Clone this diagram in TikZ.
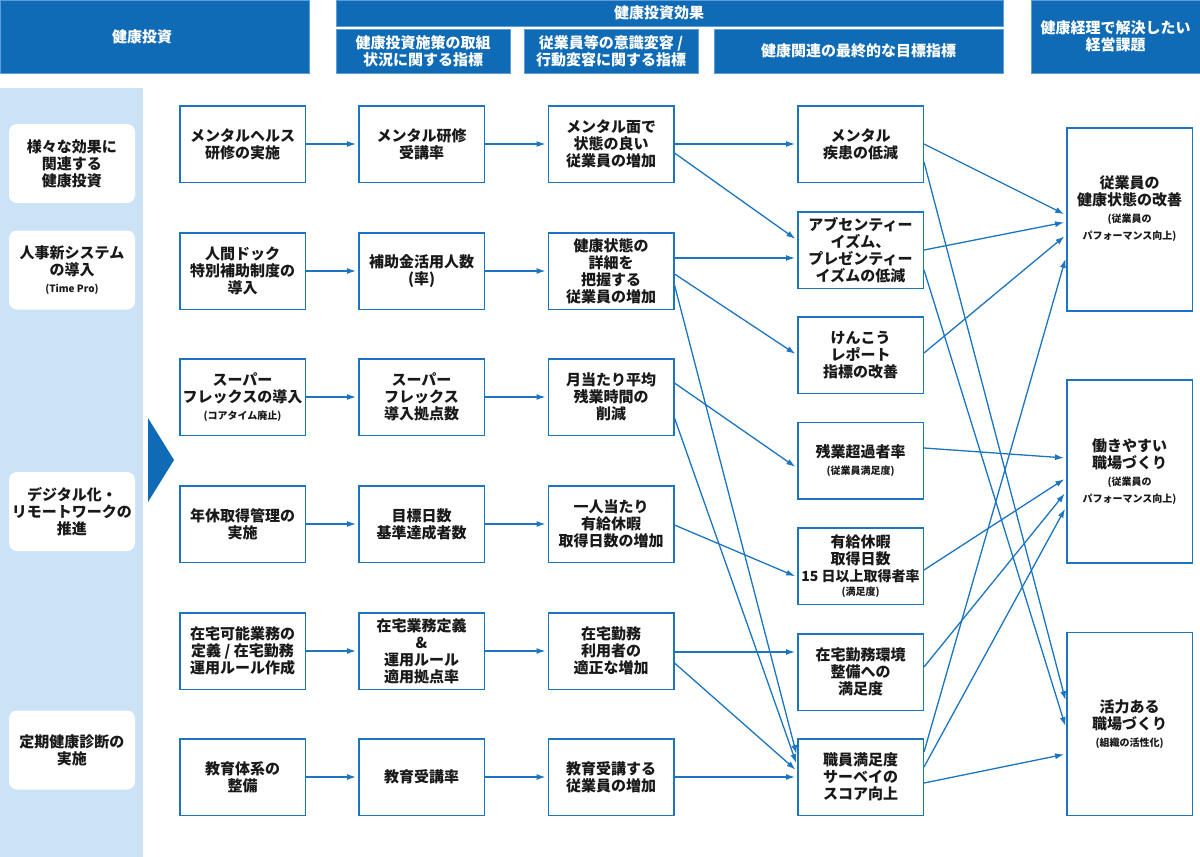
\documentclass[tikz,border=0pt]{standalone}
\usepackage{fontspec}
\setmainfont{Noto Sans CJK JP}
\usetikzlibrary{arrows.meta}
\definecolor{hdr}{HTML}{0F6BB5}
\definecolor{bd}{HTML}{1B75C1}
\definecolor{stripc}{HTML}{CBE3F5}
\definecolor{subln}{HTML}{5E9DD6}
\newcommand{\sml}[1]{{\fontsize{10}{17}\selectfont #1}}
\begin{document}
\begin{tikzpicture}[x=1pt,y=-1pt,
  every node/.style={font=\fontsize{15}{17}\selectfont\bfseries, align=center, inner sep=0pt, text=black!90},
  hbox/.style={fill=hdr, text=white, draw=subln, line width=0.6pt},
  htxt/.style={text=white},
  bx/.style={draw=bd, line width=1.5pt, fill=white, minimum width=125.5pt, minimum height=76.5pt},
  ebox/.style={draw=bd, line width=1.5pt, fill=white, minimum width=125.5pt, minimum height=183pt},
  lbox/.style={fill=white, rounded corners=8pt, minimum width=126pt, minimum height=79pt},
  arr/.style={draw=bd, line width=1.3pt, -{Latex[length=9pt,width=6pt]}, shorten >=2pt}]
\useasboundingbox (0,0) rectangle (1200,857);
\fill[white] (0,0) rectangle (1200,857);
% headers
\node[hbox, minimum width=309pt, minimum height=73pt] (h1) at (154.5,36.5) {};
\node[htxt] (h1t) at (142,37) {健康投資};
\node[hbox, minimum width=667pt, minimum height=26pt] (h2) at (669.5,13) {};
\node[htxt] (h2t) at (659,13) {健康投資効果};
\node[hbox, minimum width=174pt, minimum height=44pt] (h3) at (423,51) {健康投資施策の取組\\状況に関する指標};
\node[hbox, minimum width=174pt, minimum height=44pt] (h4) at (611,51) {従業員等の意識変容 /\\行動変容に関する指標};
\node[hbox, minimum width=289pt, minimum height=44pt] (h5) at (858.5,51) {健康関連の最終的な目標指標};
\node[hbox, minimum width=169pt, minimum height=73pt] (h6) at (1115.5,36.5) {健康経理で解決したい\\経営課題};
% left strip
\fill[stripc] (0,88) rectangle (143,857);
\fill[hdr] (148,418) -- (174,460) -- (148,502) -- cycle;
\node[lbox] (l1) at (72,163.5) {様々な効果に\\関連する\\健康投資};
\node[lbox] (l2) at (72,270) {人事新システム\\の導入\\\sml{(Time Pro)}};
\node[lbox] (l3) at (72,511.5) {デジタル化・\\リモートワークの\\推進};
\node[lbox] (l4) at (72,750) {定期健康診断の\\実施};
% column 1
\node[bx] (a1) at (242.5,144) {メンタルヘルス\\研修の実施};
\node[bx] (a2) at (242.5,271) {人間ドック\\特別補助制度の\\導入};
\node[bx] (a3) at (242.5,397) {スーパー\\フレックスの導入\\\sml{(コアタイム廃止)}};
\node[bx] (a4) at (242.5,524) {年休取得管理の\\実施};
\node[bx] (a5) at (242.5,651) {在宅可能業務の\\定義 / 在宅勤務\\運用ルール作成};
\node[bx] (a6) at (242.5,777) {教育体系の\\整備};
% column 2
\node[bx] (b1) at (421.5,144) {メンタル研修\\受講率};
\node[bx] (b2) at (421.5,271) {補助金活用人数\\(率)};
\node[bx] (b3) at (421.5,397) {スーパー\\フレックス\\導入拠点数};
\node[bx] (b4) at (421.5,524) {目標日数\\基準達成者数};
\node[bx] (b5) at (421.5,651) {在宅業務定義\\\&\\運用ルール\\適用拠点率};
\node[bx] (b6) at (421.5,777) {教育受講率};
% column 3
\node[bx] (c1) at (611,144) {メンタル面で\\状態の良い\\従業員の増加};
\node[bx] (c2) at (611,271) {健康状態の\\詳細を\\把握する\\従業員の増加};
\node[bx] (c3) at (611,397) {月当たり平均\\残業時間の\\削減};
\node[bx] (c4) at (611,524) {一人当たり\\有給休暇\\取得日数の増加};
\node[bx] (c5) at (611,651) {在宅勤務\\利用者の\\適正な増加};
\node[bx] (c6) at (611,777) {教育受講する\\従業員の増加};
% column 4
\node[bx] (d1) at (860.5,144) {メンタル\\疾患の低減};
\node[bx] (d2) at (860.5,250) {アブセンティー\\イズム、\\プレゼンティー\\イズムの低減};
\node[bx] (d3) at (860.5,355) {けんこう\\レポート\\指標の改善};
\node[bx] (d4) at (860.5,460.5) {残業超過者率\\\sml{(従業員満足度)}};
\node[bx] (d5) at (860.5,566) {有給休暇\\取得日数\\{\fontsize{14}{17}\selectfont 15 日以上取得者率}\\[-3pt]\sml{(満足度)}};
\node[bx] (d6) at (860.5,672) {在宅勤務環境\\整備への\\満足度};
\node[bx] (d7) at (860.5,777) {職員満足度\\サーベイの\\スコア向上};
% column 5
\node[ebox] (e1) at (1129.5,219.5) {};
\node (e1t) at (1129.5,209) {従業員の\\健康状態の改善\\\sml{(従業員の}\\\sml{パフォーマンス向上)}};
\node[ebox] (e2) at (1129.5,471.5) {働きやすい\\職場づくり\\\sml{(従業員の}\\\sml{パフォーマンス向上)}};
\node[ebox] (e3) at (1129.5,724) {活力ある\\職場づくり\\\sml{(組織の活性化)}};
% arrows col1 -> col2 -> col3
\foreach \i in {1,...,6} {
  \draw[arr] (a\i) -- (b\i);
  \draw[arr] (b\i) -- (c\i);
}
% col3 -> col4
\draw[arr] (c1) -- (d1);
\draw[arr] ([yshift=-9pt]c1.east) -- ([yshift=10pt]d2.west);
\draw[arr] ([yshift=13pt]c2.east) -- ([yshift=-8pt]d2.west);
\draw[arr] ([yshift=-3pt]c2.east) -- (d3.west);
\draw[arr] ([yshift=-14pt]c2.east) -- ([yshift=21pt]d7.west);
\draw[arr] ([yshift=14pt]c3.east) -- ([yshift=-7.5pt]d4.west);
\draw[arr] ([yshift=-21pt]c3.east) -- ([yshift=12pt]d7.west);
\draw[arr] ([yshift=-1pt]c4.east) -- ([yshift=-11pt]d5.west);
\draw[arr] ([yshift=-1pt]c5.east) -- ([yshift=20pt]d6.west);
\draw[arr] ([yshift=-12pt]c5.east) -- ([yshift=6pt]d7.west);
\draw[arr] (c6) -- (d7);
% col4 -> col5
\draw[arr] (d1.east) -- ([yshift=4.5pt]e1.west);
\draw[arr] ([yshift=-18pt]d1.east) -- ([yshift=22pt]e3.west);
\draw[arr] (d2.east) -- ([yshift=-2.5pt]e1.west);
\draw[arr] ([yshift=-20pt]d2.east) -- ([yshift=-4pt]e3.west);
\draw[arr] ([yshift=2pt]d3.east) -- ([yshift=-15.5pt]e1.west);
\draw[arr] ([yshift=12.5pt]d4.east) -- ([yshift=13.5pt]e2.west);
\draw[arr] ([yshift=-4pt]d5.east) -- ([yshift=-6.5pt]e2.west);
\draw[arr] ([yshift=5pt]d6.east) -- ([yshift=-20.5pt]e2.west);
\draw[arr] ([yshift=25pt]d7.east) -- ([yshift=-37.5pt]e1.west);
\draw[arr] ([yshift=10pt]d7.east) -- ([yshift=-35.5pt]e2.west);
\draw[arr] ([yshift=-6pt]d7.east) -- ([yshift=-30pt]e3.west);
\end{tikzpicture}
\end{document}
